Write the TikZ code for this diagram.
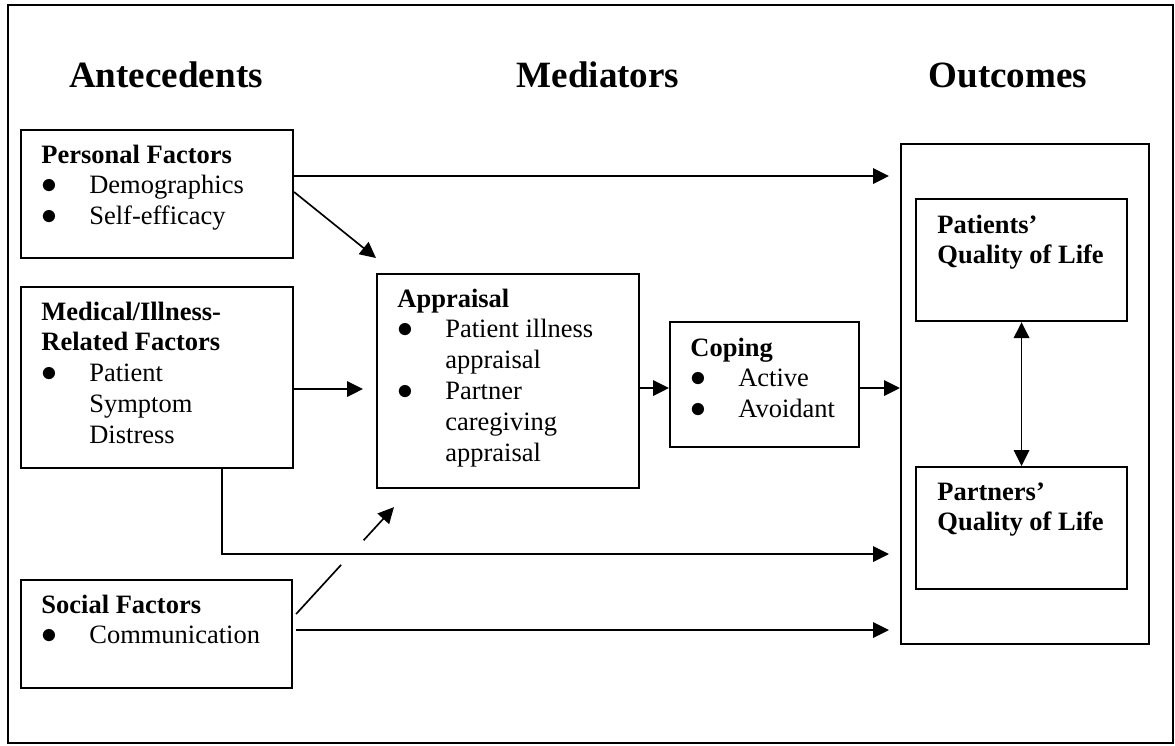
\documentclass[tikz,border=0pt]{standalone}
\usepackage{fontspec}
\setmainfont{Liberation Serif}
\usetikzlibrary{positioning, calc, arrows.meta}

\newcommand\pxu{0.453pt}
\newcommand\itm[1]{\makebox[21.7pt][l]{\scalebox{1.2}{$\bullet$}}#1}
\newcommand\cont[1]{\hspace*{21.7pt}#1}
\newcommand\lines[1]{\begin{tabular}[t]{@{}l@{}}#1\end{tabular}}

\begin{document}
\begin{tikzpicture}[x=0.453pt, y=-0.453pt]
\tikzstyle{box}=[rectangle, draw=black, line width=0.95pt, anchor=north west, inner sep=0pt]
\tikzstyle{txt}=[anchor=base west, inner sep=0pt, font=\fontsize{12}{14}\selectfont]
\tikzstyle{head}=[anchor=base, inner sep=0pt, font=\fontsize{16.8}{20}\selectfont\bfseries]
\tikzstyle{connect}=[-{Triangle[length=7.2pt, width=7pt]}, line width=0.75pt]
\tikzstyle{both}=[{Triangle[length=7.2pt, width=7pt]}-{Triangle[length=7.2pt, width=7pt]}, line width=0.75pt]
\tikzstyle{link}=[line width=0.75pt]

\useasboundingbox (0,0) rectangle (1175,745);

% 1. Frame and headings
%%%%%%%%%%%%%%%%%%%%%%%
\node[box, minimum width=1165*\pxu, minimum height=738*\pxu] (frame) at (7,4) {};
\node[head] (antecedents) at (166,87) {Antecedents};
\node[head] (mediators) at (598,87) {Mediators};
\node[head] (outcomeshead) at (1008,87) {Outcomes};

% 2. Boxes
%%%%%%%%%%
\node[box, minimum width=272*\pxu, minimum height=128*\pxu] (personal) at (20,129) {};
\node[box, minimum width=272*\pxu, minimum height=181*\pxu] (medical) at (20,286) {};
\node[box, minimum width=271*\pxu, minimum height=108*\pxu] (social) at (20,579) {};
\node[box, minimum width=262*\pxu, minimum height=214*\pxu] (appraisal) at (376,273) {};
\node[box, minimum width=189*\pxu, minimum height=125*\pxu] (coping) at (669,321) {};
\node[box, minimum width=248*\pxu, minimum height=500*\pxu] (outcomes) at (900,143) {};
\node[box, minimum width=211*\pxu, minimum height=122*\pxu] (patients) at (915,198) {};
\node[box, minimum width=211*\pxu, minimum height=122*\pxu] (partners) at (915,466) {};

% 3. Box texts
%%%%%%%%%%%%%%
\node[txt] (personaltxt) at ($(personal.north west)+(21,34)$)
  {\lines{\textbf{Personal Factors}\\ \itm{Demographics}\\ \itm{Self-efficacy}}};
\node[txt] (medicaltxt) at ($(medical.north west)+(21,34)$)
  {\lines{\textbf{Medical/Illness-}\\ \textbf{Related Factors}\\ \itm{Patient}\\ \cont{Symptom}\\ \cont{Distress}}};
\node[txt] (socialtxt) at ($(social.north west)+(21,34)$)
  {\lines{\textbf{Social Factors}\\ \itm{Communication}}};
\node[txt] (appraisaltxt) at ($(appraisal.north west)+(21,34)$)
  {\lines{\textbf{Appraisal}\\ \itm{Patient illness}\\ \cont{appraisal}\\ \itm{Partner}\\ \cont{caregiving}\\ \cont{appraisal}}};
\node[txt] (copingtxt) at ($(coping.north west)+(21,35)$)
  {\lines{\textbf{Coping}\\ \itm{Active}\\ \itm{Avoidant}}};
\node[txt] (patientstxt) at ($(patients.north west)+(22,35)$)
  {\lines{\textbf{Patients’}\\ \textbf{Quality of Life}}};
\node[txt] (partnerstxt) at ($(partners.north west)+(22,34)$)
  {\lines{\textbf{Partners’}\\ \textbf{Quality of Life}}};

% 4. Arrows
%%%%%%%%%%%
\path ($(personal.north east)+(0,47)$)   edge [connect] ($(outcomes.north west)+(-11,33)$)
      ($(personal.north east)+(0,63)$)   edge [connect] ($(appraisal.north west)+(0,-15)$)
      ($(medical.north east)+(0,103)$)   edge [connect] ($(appraisal.north west)+(-13,116)$)
      ($(appraisal.north east)+(0,115)$) edge [connect] ($(coping.north west)+(0,67)$)
      ($(coping.north east)+(0,67)$)     edge [connect] ($(outcomes.north west)+(0,245)$)
      ($(social.north east)+(3,51)$)     edge [connect] ($(outcomes.north west)+(-11,487)$)
      (patients) edge [both] (partners);
\draw[connect] ($(medical.south west)+(202,0)$) |- ($(outcomes.north west)+(-11,411)$);

% social -> appraisal, broken where it crosses
\coordinate (socA) at ($(social.north east)+(3,35)$);
\coordinate (socB) at ($(appraisal.south west)+(18,18)$);
\path (socA) -- (socB) coordinate[pos=0.46] (gapA) coordinate[pos=0.69] (gapB);
\draw[link] (socA) -- (gapA);
\draw[connect] (gapB) -- (socB);

\end{tikzpicture}
\end{document}
